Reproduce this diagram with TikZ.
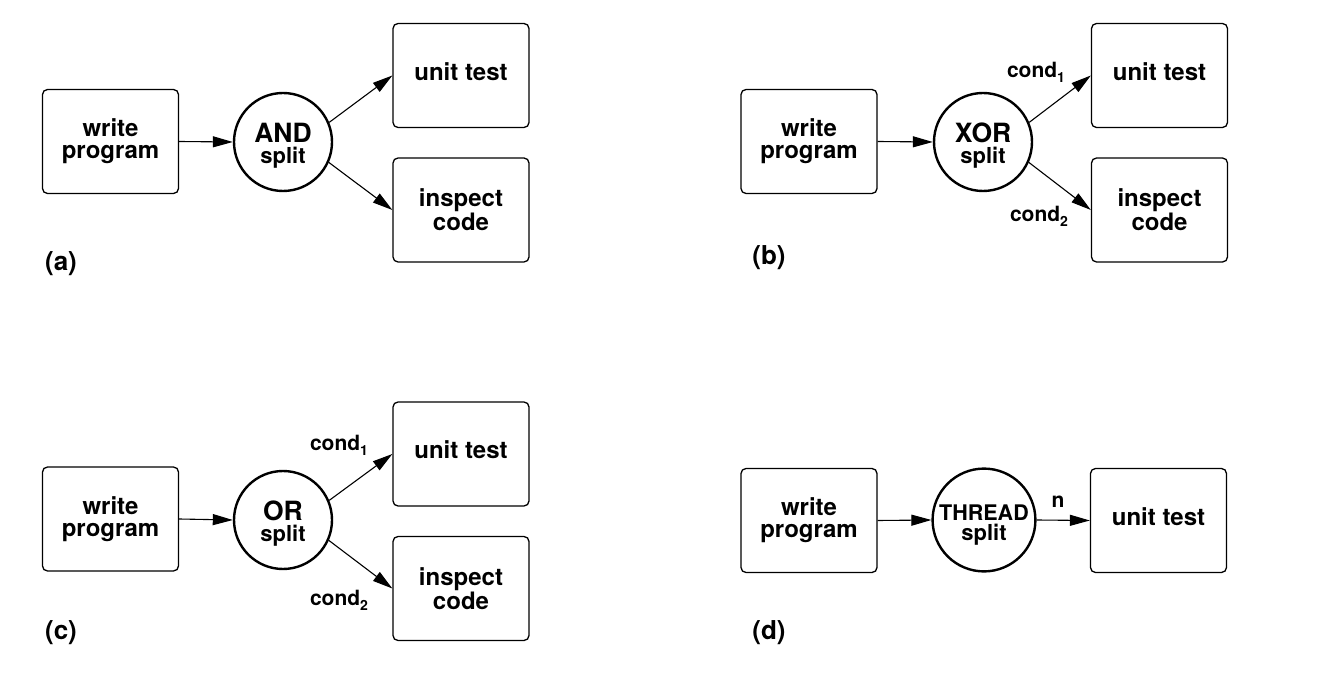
\documentclass[tikz,border=0pt]{standalone}
\usepackage{fontspec}
\setmainfont{TeX Gyre Heros}
\usetikzlibrary{arrows.meta}
\newcommand\cnd[1]{cond\raisebox{-5pt}{\fontsize{14}{14}\selectfont #1}}
\newcommand\gsplit{{\fontsize{22}{21}\selectfont split}}
\begin{document}
\begin{tikzpicture}[x=1pt,y=-1pt,
  box/.style={draw, line width=1.3pt, rounded corners=5pt, minimum width=136pt, minimum height=104pt, align=center, inner sep=0pt, font=\bfseries\fontsize{24}{22}\selectfont},
  single/.style={text depth=8pt},
  gate/.style={draw, circle, line width=2.4pt, minimum size=98pt, inner sep=0pt, align=center, font=\bfseries\fontsize{26.5}{21}\selectfont},
  arr/.style={line width=1.1pt, -{Triangle[length=20pt,width=11pt]}},
  lab/.style={font=\bfseries\fontsize{26}{26}\selectfont, inner sep=0pt},
  sub/.style={font=\bfseries\fontsize{21}{21}\selectfont, inner sep=0pt}]
\useasboundingbox (0,0) rectangle (1320,692);
% (a)
\node[box] (awp) at (110.5,141.5) {write\\program};
\node[gate] (ag) at (283,142) {\rule{0pt}{26pt}AND\\\gsplit};
\node[box, single] (aut) at (461,75.5) {unit test};
\node[box] (aic) at (461,210) {inspect\\code};
\node[lab] (al) at (61,264) {(a)};
\draw[arr] (awp.east) -- (ag.west);
\draw[arr] (ag.23) -- (aut.west);
\draw[arr] (ag.-24) -- (aic.west);
% (b)
\node[box] (bwp) at (809,141.5) {write\\program};
\node[gate] (bg) at (983,142) {\rule{0pt}{26pt}XOR\\\gsplit};
\node[box, single] (but) at (1159.5,75.5) {unit test};
\node[box] (bic) at (1159.5,210) {inspect\\code};
\node[lab] (bl) at (769,258) {(b)};
\draw[arr] (bwp.east) -- (bg.west);
\draw[arr] (bg.23) -- (but.west);
\draw[arr] (bg.-24) -- (bic.west);
\node[sub] (bc1) at (1036,72) {\cnd{1}};
\node[sub] (bc2) at (1039,216) {\cnd{2}};
% (c)
\node[box] (cwp) at (110.5,519) {write\\program};
\node[gate] (cg) at (283,520) {\rule{0pt}{26pt}OR\\\gsplit};
\node[box, single] (cut) at (461,454) {unit test};
\node[box] (cic) at (461,588.5) {inspect\\code};
\node[lab] (cl) at (61,633) {(c)};
\draw[arr] (cwp.east) -- (cg.west);
\draw[arr] (cg.23) -- (cut.west);
\draw[arr] (cg.-24) -- (cic.west);
\node[sub] (cc1) at (339,445) {\cnd{1}};
\node[sub] (cc2) at (339,600) {\cnd{2}};
% (d)
\node[box] (dwp) at (809,520.5) {write\\program};
\node[gate, font=\bfseries\fontsize{21.5}{20}\selectfont] (dg) at (984,520) {\rule{0pt}{26pt}THREAD\\\gsplit};
\node[box, single] (dut) at (1158.5,520.5) {unit test};
\node[lab] (dl) at (769,633) {(d)};
\draw[arr] (dwp.east) -- (dg.west);
\draw[arr] (dg.east) -- (dut.west);
\node[sub] (dn) at (1058,502) {n};
\end{tikzpicture}
\end{document}
